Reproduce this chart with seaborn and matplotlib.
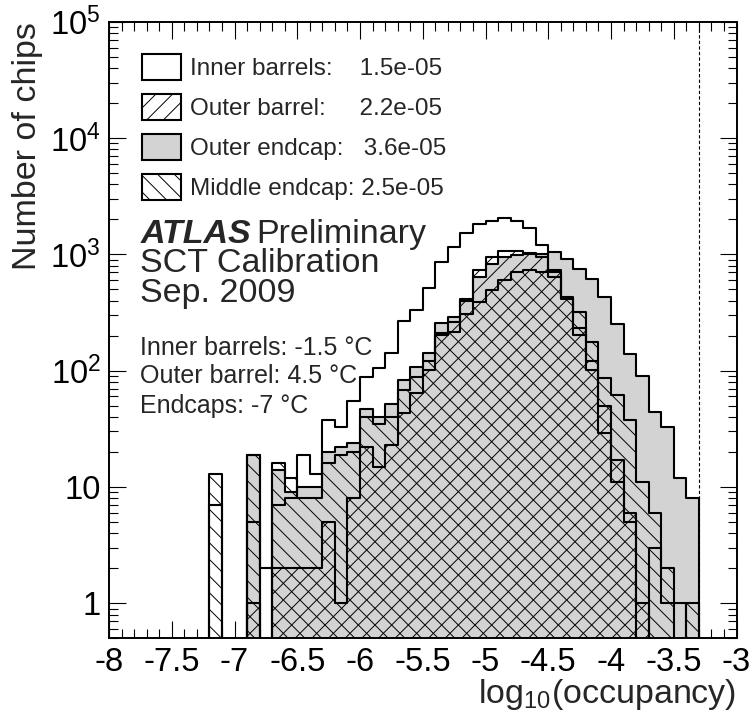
import numpy as np
import pandas as pd
import matplotlib
matplotlib.use("Agg")
import matplotlib.pyplot as plt
from matplotlib.patches import Patch
from matplotlib.ticker import MultipleLocator, LogLocator, NullFormatter
import seaborn as sns

# bin edges of log10(occupancy), 0.1 wide
edges = [round(-8.0 + 0.1 * i, 2) for i in range(51)]
centers = [round(e + 0.05, 3) for e in edges[:-1]]

# number of chips per bin
inner_barrels = [0, 0, 0, 0, 0, 0, 0, 0, 7, 0,
                 0, 5, 2, 7, 8, 19, 13, 38, 33, 55,
                 88, 106, 143, 266, 330, 510, 860, 1150, 1520, 1830,
                 1930, 2040, 1940, 1680, 1200, 700, 420, 202, 101, 29,
                 11, 5, 0, 3, 1, 1, 0, 0, 0, 0]
outer_barrel = [0, 0, 0, 0, 0, 0, 0, 0, 0, 0,
                0, 1, 0, 2, 2, 2, 2, 5, 1, 8,
                22, 15, 23, 43, 64, 101, 202, 260, 417, 735,
                943, 1078, 1078, 1000, 950, 735, 430, 233, 120, 50,
                17, 6, 1, 0, 0, 0, 0, 0, 0, 0]
outer_endcap = [0, 0, 0, 0, 0, 0, 0, 0, 0, 0,
                0, 19, 0, 14, 9, 10, 10, 20, 22, 24,
                47, 40, 52, 83, 108, 141, 255, 288, 400, 640,
                830, 950, 990, 1030, 1000, 1055, 911, 755, 620, 433,
                252, 139, 90, 44, 33, 12, 8, 0, 0, 0]
middle_endcap = [0, 0, 0, 0, 0, 0, 0, 0, 13, 0,
                 0, 19, 0, 16, 12, 8, 8, 16, 19, 20,
                 40, 35, 40, 68, 89, 120, 210, 216, 310, 390,
                 495, 600, 710, 735, 700, 640, 415, 322, 177, 86,
                 62, 38, 11, 6, 2, 0, 1, 0, 0, 0]

legend_labels = ["Inner barrels:    1.5e-05",
                 "Outer barrel:     2.2e-05",
                 "Outer endcap:   3.6e-05",
                 "Middle endcap: 2.5e-05"]
xtick_vals = [-8, -7.5, -7, -6.5, -6, -5.5, -5, -4.5, -4, -3.5, -3]
xtick_text = ["-8", "-7.5", "-7", "-6.5", "-6", "-5.5", "-5", "-4.5", "-4", "-3.5", "-3"]
ytick_vals = [1, 10, 100, 1000, 10000, 100000]
ytick_text = ["1", "10", "$10^{2}$", "$10^{3}$", "$10^{4}$", "$10^{5}$"]

sns.set_style("ticks")
plt.rcParams["font.family"] = ["Liberation Sans", "DejaVu Sans"]
plt.rcParams["mathtext.fontset"] = "custom"
plt.rcParams["mathtext.rm"] = "Liberation Sans"
plt.rcParams["mathtext.it"] = "Liberation Sans:italic"
plt.rcParams["mathtext.bf"] = "Liberation Sans:bold"
plt.rcParams["hatch.linewidth"] = 0.7

df = pd.DataFrame({"x": centers, "inner": inner_barrels, "obarrel": outer_barrel,
                   "oendcap": outer_endcap, "mendcap": middle_endcap})

fig = plt.figure(figsize=(7.54, 7.21), dpi=100)
ax = fig.add_axes([0.1446, 0.1147, 0.8322, 0.8551])
ax.set_yscale("log", nonpositive="clip")

common = dict(data=df, x="x", bins=edges, element="step", fill=True, ax=ax,
              color="black", linewidth=1.5, edgecolor="black")
sns.histplot(weights="oendcap", facecolor="#d3d3d3", zorder=2, **common)
sns.histplot(weights="inner", facecolor="none", zorder=3, **common)
sns.histplot(weights="obarrel", facecolor="none", hatch="//", zorder=4, **common)
sns.histplot(weights="mendcap", facecolor="none", hatch="\\\\", zorder=5, **common)

ax.axvline(-3.3, color="black", lw=0.8, ls=(0, (3, 2)), zorder=1)

ax.set_xlim(-8, -3)
ax.set_ylim(0.5, 1e5)
ax.set_xticks(xtick_vals, labels=xtick_text)
ax.xaxis.set_minor_locator(MultipleLocator(0.1))
ax.set_yticks(ytick_vals, labels=ytick_text)
ax.yaxis.set_minor_locator(LogLocator(base=10, subs=np.arange(2, 10) * 1.0, numticks=20))
ax.yaxis.set_minor_formatter(NullFormatter())
ax.tick_params(which="both", direction="in", top=True, right=True, width=0.8, colors="black")
ax.tick_params(which="major", length=12.5, labelsize=23.5, pad=6)
ax.tick_params(which="minor", length=6.5)
for s in ax.spines.values():
    s.set_linewidth(1.4)
    s.set_color("black")

ax.set_ylabel("Number of chips", fontsize=24.5, loc="top")
ax.yaxis.set_label_coords(-0.105, 1.0)
ax.set_xlabel("log$_{10}$(occupancy)", fontsize=24.5, loc="right")
ax.xaxis.set_label_coords(1.0, -0.062)

handles = [Patch(facecolor="white", edgecolor="black", lw=1.5),
           Patch(facecolor="white", edgecolor="black", hatch="//", lw=1.5),
           Patch(facecolor="#d3d3d3", edgecolor="black", lw=1.5),
           Patch(facecolor="white", edgecolor="black", hatch="\\\\", lw=1.5)]
ax.legend(handles, legend_labels, loc="upper left", bbox_to_anchor=(0.053, 0.948),
          frameon=False, fontsize=17.5, borderpad=0, borderaxespad=0,
          handlelength=1.6, handleheight=1.25, handletextpad=0.36, labelspacing=0.58)

ax.text(0.05, 0.6417, "ATLAS", fontsize=24.5, weight="bold", style="italic",
        transform=ax.transAxes, va="baseline")
ax.text(0.235, 0.6417, "Preliminary", fontsize=24.5, transform=ax.transAxes, va="baseline")
ax.text(0.05, 0.5946, "SCT Calibration", fontsize=24.5, transform=ax.transAxes, va="baseline")
ax.text(0.05, 0.546, "Sep. 2009", fontsize=24.5, transform=ax.transAxes, va="baseline")
ax.text(0.05, 0.4595, "Inner barrels: -1.5 °C", fontsize=18, transform=ax.transAxes, va="baseline")
ax.text(0.05, 0.4136, "Outer barrel: 4.5 °C", fontsize=18, transform=ax.transAxes, va="baseline")
ax.text(0.05, 0.3649, "Endcaps: -7 °C", fontsize=18, transform=ax.transAxes, va="baseline")

fig.savefig("out.png", dpi=100)
